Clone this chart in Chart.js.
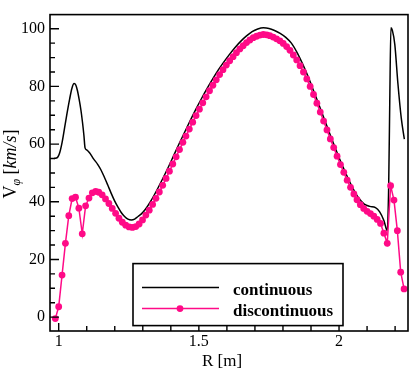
<!DOCTYPE html>
<html>
<head>
<meta charset="utf-8">
<script src="https://cdn.jsdelivr.net/npm/chart.js@4.4.0/dist/chart.umd.min.js"></script>
<style>
  html, body { margin: 0; padding: 0; background: #fff; }
</style>
</head>
<body>
<canvas id="vphi-chart" width="412" height="371"></canvas>
<script>
// continuous solution (black line)
const contR = [0.984, 0.996, 1.003, 1.012, 1.021, 1.030, 1.039, 1.047, 1.055, 1.061, 1.067, 1.073, 1.079, 1.085, 1.090, 1.094,
  1.100, 1.110, 1.125, 1.139, 1.150, 1.163, 1.175, 1.187, 1.199, 1.211, 1.223, 1.235, 1.247, 1.259, 1.271, 1.283, 1.295,
  1.31, 1.33, 1.35, 1.37, 1.39, 1.41, 1.43, 1.45, 1.47, 1.49, 1.51, 1.53, 1.55, 1.57, 1.59, 1.61, 1.63, 1.65, 1.67, 1.69,
  1.71, 1.73, 1.75, 1.77, 1.79, 1.81, 1.83, 1.85, 1.87, 1.89, 1.91, 1.93, 1.95, 1.97, 1.99, 2.01, 2.03, 2.05, 2.07, 2.09,
  2.11, 2.13, 2.145, 2.160, 2.172, 2.177, 2.181, 2.185, 2.190, 2.199, 2.210, 2.222, 2.233];
const contV = [55.0, 55.4, 56.8, 60.5, 65.6, 70.8, 75.6, 79.3, 81.0, 80.5, 78.5, 75.5, 72.0, 67.5, 63.0, 58.7,
  58.0, 57.0, 54.8, 53.0, 51.2, 48.5, 45.8, 43.0, 40.4, 38.2, 36.3, 34.9, 34.0, 33.7, 34.0, 34.9, 35.8,
  37.5, 40.5, 44.0, 47.8, 51.8, 56.0, 60.2, 64.3, 68.3, 72.2, 75.9, 79.4, 82.7, 85.8, 88.6, 91.2, 93.6, 95.7, 97.5, 99.0,
  99.9, 100.3, 100.1, 99.4, 98.4, 97.0, 95.0, 91.8, 87.8, 83.3, 78.3, 73.2, 68.0, 62.8, 57.8, 53.0, 48.6, 44.6, 41.3, 39.2,
  38.4, 38.0, 36.5, 33.5, 30.0, 45.0, 75.0, 100.3, 99.5, 94.5, 81.0, 69.0, 61.7];

// discontinuous solution (pink markers)
const discR = [0.988, 1.000, 1.012, 1.024, 1.036, 1.048, 1.060, 1.072, 1.084, 1.096, 1.108, 1.120, 1.132, 1.143, 1.155,
  1.167, 1.179, 1.191, 1.203, 1.215, 1.227, 1.239, 1.251, 1.263, 1.275, 1.287, 1.299, 1.311, 1.323, 1.335, 1.347, 1.359,
  1.371, 1.383, 1.395, 1.407, 1.419, 1.431, 1.443, 1.454, 1.466, 1.478, 1.490, 1.502, 1.514, 1.526, 1.538, 1.550, 1.562,
  1.574, 1.586, 1.598, 1.610, 1.622, 1.634, 1.646, 1.658, 1.670, 1.682, 1.694, 1.706, 1.718, 1.730, 1.742, 1.753, 1.765,
  1.777, 1.789, 1.801, 1.813, 1.825, 1.837, 1.849, 1.861, 1.873, 1.885, 1.897, 1.909, 1.921, 1.933, 1.945, 1.957, 1.969,
  1.981, 1.993, 2.005, 2.017, 2.029, 2.041, 2.053, 2.064, 2.076, 2.088, 2.100, 2.112, 2.124, 2.136, 2.148, 2.160, 2.172,
  2.184, 2.196, 2.208, 2.220, 2.232];
const discV = [-0.5, 3.6, 14.6, 25.6, 35.2, 41.1, 41.6, 37.8, 28.9, 38.6, 41.3, 43.1, 43.6, 43.3, 42.4,
  41.0, 39.4, 37.7, 36.0, 34.3, 32.9, 31.9, 31.3, 31.1, 31.4, 32.3, 33.7, 35.4, 37.1, 39.1, 41.2, 43.4,
  45.7, 48.1, 50.6, 53.1, 55.6, 58.1, 60.6, 62.8, 65.2, 67.6, 69.9, 72.1, 74.3, 76.4, 78.5, 80.4, 82.3,
  84.1, 85.8, 87.4, 88.9, 90.3, 91.7, 93.0, 94.1, 95.2, 96.1, 96.9, 97.4, 97.8, 98.0, 97.9, 97.6, 97.1,
  96.5, 95.8, 94.9, 93.8, 92.5, 90.9, 89.2, 87.2, 85.0, 82.6, 80.0, 77.2, 74.2, 71.1, 68.0, 64.9, 61.8,
  58.8, 55.8, 52.9, 50.2, 47.5, 45.0, 42.7, 40.7, 39.0, 37.7, 36.7, 35.9, 35.0, 33.9, 32.5, 29.1, 25.6,
  45.6, 40.6, 30.0, 15.6, 9.8];

const xTicks = [1, 1.5, 2];
const xMinor = [1.1, 1.2, 1.3, 1.4, 1.6, 1.7, 1.8, 1.9, 2.1, 2.2];
const yTicks = [0, 20, 40, 60, 80, 100];
const yMinor = [5, 10, 15, 25, 30, 35, 45, 50, 55, 65, 70, 75, 85, 90, 95];
const seriesNames = ['continuous', 'discontinuous'];

const PINK = '#ff0a87';
const SERIF = '"Liberation Serif", "Times New Roman", serif';

// frame + inward ticks, axis titles and the boxed legend
const decorations = {
  id: 'decorations',
  afterDatasetsDraw(chart) {
    const ctx = chart.ctx;
    const a = chart.chartArea;
    const sx = chart.scales.x, sy = chart.scales.y;
    ctx.save();
    ctx.strokeStyle = '#000';
    ctx.lineWidth = 1.6;
    ctx.strokeRect(a.left, a.top, a.right - a.left, a.bottom - a.top);

    ctx.lineWidth = 1.4;
    ctx.beginPath();
    xTicks.forEach(v => { const p = sx.getPixelForValue(v); ctx.moveTo(p, a.bottom); ctx.lineTo(p, a.bottom - 8); });
    xMinor.forEach(v => { const p = sx.getPixelForValue(v); ctx.moveTo(p, a.bottom); ctx.lineTo(p, a.bottom - 5); });
    yTicks.forEach(v => { const p = sy.getPixelForValue(v); ctx.moveTo(a.left, p); ctx.lineTo(a.left + 9, p); });
    yMinor.forEach(v => { const p = sy.getPixelForValue(v); ctx.moveTo(a.left, p); ctx.lineTo(a.left + 5, p); });
    ctx.stroke();
    ctx.restore();
  },
  afterDraw(chart) {
    const ctx = chart.ctx;
    const a = chart.chartArea;
    ctx.save();
    ctx.fillStyle = '#000';

    // x title
    ctx.font = '17px ' + SERIF;
    ctx.textAlign = 'center';
    ctx.textBaseline = 'alphabetic';
    ctx.fillText('R [m]', 222, 366);

    // y title: V_phi [km/s]
    ctx.translate(15.5, 164);
    ctx.rotate(-Math.PI / 2);
    ctx.textAlign = 'left';
    const parts = [
      ['V', '18px ' + SERIF, 0],
      ['\u03c6', 'italic 12px ' + SERIF, 4],
      [' [', '18px ' + SERIF, 0],
      ['km/s', 'italic 18px ' + SERIF, 0],
      [']', '18px ' + SERIF, 0]
    ];
    let total = 0;
    parts.forEach(p => { ctx.font = p[1]; total += ctx.measureText(p[0]).width; });
    let px = -total / 2;
    parts.forEach(p => {
      ctx.font = p[1];
      ctx.fillText(p[0], px, p[2]);
      px += ctx.measureText(p[0]).width;
    });
    ctx.restore();

    // legend box
    const bx = a.left + 83, by = a.top + 249, bw = 210, bh = 62;
    ctx.save();
    ctx.fillStyle = '#fff';
    ctx.fillRect(bx, by, bw, bh);
    ctx.strokeStyle = '#000';
    ctx.lineWidth = 1.6;
    ctx.strokeRect(bx, by, bw, bh);
    const rows = [by + 24, by + 45];
    chart.data.datasets.forEach((ds, i) => {
      const y = rows[ds.legendRow];
      ctx.strokeStyle = ds.borderColor;
      ctx.lineWidth = ds.borderWidth;
      ctx.beginPath();
      ctx.moveTo(bx + 9, y);
      ctx.lineTo(bx + 86, y);
      ctx.stroke();
      if (ds.pointRadius > 0) {
        ctx.fillStyle = ds.pointBackgroundColor;
        ctx.beginPath();
        ctx.arc(bx + 47, y, ds.pointRadius, 0, Math.PI * 2);
        ctx.fill();
      }
      ctx.fillStyle = '#000';
      ctx.font = 'bold 17px ' + SERIF;
      ctx.textAlign = 'left';
      ctx.textBaseline = 'alphabetic';
      ctx.fillText(ds.label, bx + 100, y + 7);
    });
    ctx.restore();
  }
};

new Chart(document.getElementById('vphi-chart'), {
  type: 'line',
  data: {
    datasets: [
      {
        label: seriesNames[1],
        legendRow: 1,
        data: discR.map((r, i) => ({ x: r, y: discV[i] })),
        borderColor: PINK,
        borderWidth: 1.5,
        pointRadius: 3.4,
        pointBackgroundColor: PINK,
        pointBorderWidth: 0,
        tension: 0,
        order: 0
      },
      {
        label: seriesNames[0],
        legendRow: 0,
        data: contR.map((r, i) => ({ x: r, y: contV[i] })),
        borderColor: '#000',
        borderWidth: 1.5,
        pointRadius: 0,
        cubicInterpolationMode: 'monotone',
        order: 1
      }
    ]
  },
  options: {
    responsive: false,
    animation: false,
    devicePixelRatio: 1,
    layout: { padding: { top: 2, right: 2, left: 0, bottom: 0 } },
    plugins: { legend: { display: false }, tooltip: { enabled: false } },
    scales: {
      x: {
        type: 'linear',
        min: 0.969,
        max: 2.246,
        grid: { display: false, drawTicks: false },
        border: { display: false },
        afterBuildTicks: s => { s.ticks = xTicks.map(v => ({ value: v })); },
        afterFit: s => { s.height = 40; },
        ticks: { color: '#000', font: { family: SERIF, size: 16 }, padding: 1, maxRotation: 0, callback: v => String(v) }
      },
      y: {
        min: -4.8,
        max: 104.9,
        grid: { display: false, drawTicks: false },
        border: { display: false },
        afterBuildTicks: s => { s.ticks = yTicks.map(v => ({ value: v })); },
        afterFit: s => { s.width = 50; },
        ticks: { color: '#000', font: { family: SERIF, size: 16 }, padding: 5, callback: v => String(v) }
      }
    }
  },
  plugins: [decorations]
});
</script>
</body>
</html>
